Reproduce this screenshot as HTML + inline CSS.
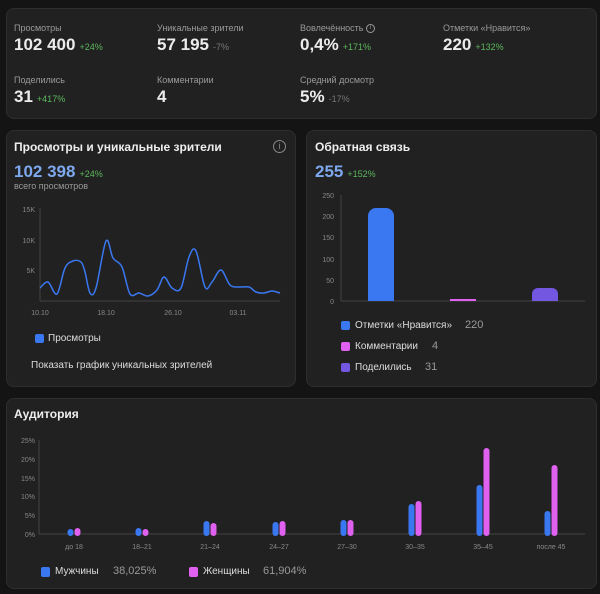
<!DOCTYPE html>
<html><head><meta charset="utf-8"><style>
*{margin:0;padding:0;box-sizing:border-box}
body{width:600px;height:594px;background:#141414;font-family:"Liberation Sans",sans-serif;position:relative;overflow:hidden;color:#e8e8e8}
.card{position:absolute;background:#212121;border:1px solid #2e2e2e;border-radius:8px}
.t{position:absolute;white-space:nowrap}
.lab{font-size:9px;color:#9a9a9a}
.val{font-size:17px;font-weight:bold;color:#ececec}
.g{font-size:9px;color:#5cb85c;font-weight:normal;margin-left:4px}
.gr{font-size:9px;color:#777;font-weight:normal;margin-left:4px}
.h{font-size:12px;font-weight:bold;color:#eee}
svg{position:absolute;left:0;top:0}
</style></head><body>
<div class="card" style="left:6px;top:8px;width:591px;height:111px"></div>
<div class="t lab" style="left:14px;top:23px">Просмотры</div>
<div class="t val" style="left:14px;top:35px">102 400<span class="g">+24%</span></div>
<div class="t lab" style="left:157px;top:23px">Уникальные зрители</div>
<div class="t val" style="left:157px;top:35px">57 195<span class="gr">-7%</span></div>
<div class="t lab" style="left:300px;top:23px">Вовлечённость <span style="display:inline-block;width:9px;height:9px;border:1px solid #999;border-radius:50%;font-size:6px;text-align:center;line-height:7px;vertical-align:middle">i</span></div>
<div class="t val" style="left:300px;top:35px">0,4%<span class="g">+171%</span></div>
<div class="t lab" style="left:443px;top:23px">Отметки «Нравится»</div>
<div class="t val" style="left:443px;top:35px">220<span class="g">+132%</span></div>
<div class="t lab" style="left:14px;top:75px">Поделились</div>
<div class="t val" style="left:14px;top:87px">31<span class="g">+417%</span></div>
<div class="t lab" style="left:157px;top:75px">Комментарии</div>
<div class="t val" style="left:157px;top:87px">4</div>
<div class="t lab" style="left:300px;top:75px">Средний досмотр</div>
<div class="t val" style="left:300px;top:87px">5%<span class="gr">-17%</span></div>

<div class="card" style="left:6px;top:130px;width:290px;height:257px"></div>
<div class="card" style="left:306px;top:130px;width:291px;height:257px"></div>
<div class="card" style="left:6px;top:398px;width:591px;height:191px"></div>

<div class="t h" style="left:14px;top:140px">Просмотры и уникальные зрители</div>
<div class="t" style="left:273px;top:140px;width:13px;height:13px;border:1px solid #888;border-radius:50%;font-size:9px;color:#888;text-align:center;line-height:11px">i</div>
<div class="t" style="left:14px;top:162px;font-size:17px;font-weight:bold;color:#7ea8ee">102 398<span class="g">+24%</span></div>
<div class="t lab" style="left:14px;top:181px">всего просмотров</div>
<div class="t" style="left:48px;top:333px;font-size:10px;color:#ddd">Просмотры</div>
<div class="t" style="left:31px;top:360px;font-size:10px;color:#ddd">Показать график уникальных зрителей</div>

<div class="t h" style="left:315px;top:140px">Обратная связь</div>
<div class="t" style="left:315px;top:162px;font-size:17px;font-weight:bold;color:#7ea8ee">255<span class="g">+152%</span></div>
<div class="t" style="left:355px;top:320px;font-size:10px;color:#ddd">Отметки «Нравится»</div>
<div class="t" style="left:465px;top:319px;font-size:11px;color:#999">220</div>
<div class="t" style="left:355px;top:341px;font-size:10px;color:#ddd">Комментарии</div>
<div class="t" style="left:432px;top:340px;font-size:11px;color:#999">4</div>
<div class="t" style="left:355px;top:362px;font-size:10px;color:#ddd">Поделились</div>
<div class="t" style="left:425px;top:361px;font-size:11px;color:#999">31</div>

<div class="t h" style="left:14px;top:407px">Аудитория</div>
<div class="t" style="left:55px;top:566px;font-size:10px;color:#ddd">Мужчины</div>
<div class="t" style="left:113px;top:565px;font-size:11px;color:#999">38,025%</div>
<div class="t" style="left:203px;top:566px;font-size:10px;color:#ddd">Женщины</div>
<div class="t" style="left:263px;top:565px;font-size:11px;color:#999">61,904%</div>

<svg width="600" height="594" font-family="Liberation Sans, sans-serif" font-size="7" fill="#888">
<line x1="40" y1="208" x2="40" y2="301" stroke="#444"/>
<line x1="40" y1="301" x2="280" y2="301" stroke="#444"/>
<g text-anchor="end"><text x="35" y="212">15K</text><text x="35" y="243">10K</text><text x="35" y="273">5K</text></g>
<g text-anchor="middle"><text x="40" y="315">10.10</text><text x="106" y="315">18.10</text><text x="173" y="315">26.10</text><text x="238" y="315">03.11</text></g>
<path id="ln" fill="none" stroke="#3a78f2" stroke-width="1.5" stroke-linejoin="round" d="M40,288 L48,282 57,294 65,268 73,261 81,262 85,272 90,293 96,288 106,241 113,258 122,267 130,294 139,293 148,296 157,290 164,277 172,288 181,288 189,257 196,251 205,287 212,282 221,270 230,285 239,287 249,287 256,292 264,293 272,291 280,293"/>
<rect x="35" y="334" width="9" height="9" rx="2" fill="#3a78f2"/>
<line x1="341" y1="195" x2="341" y2="301" stroke="#444"/>
<line x1="341" y1="301" x2="585" y2="301" stroke="#444"/>
<g text-anchor="end"><text x="334" y="198">250</text><text x="334" y="219">200</text><text x="334" y="240">150</text><text x="334" y="262">100</text><text x="334" y="283">50</text><text x="334" y="304">0</text></g>
<path d="M368,301 V216 a8,8 0 0 1 8,-8 h10 a8,8 0 0 1 8,8 V301Z" fill="#3a78f2"/>
<rect x="450" y="299" width="26" height="2" fill="#e060f0"/>
<path d="M532,301 V294 a6,6 0 0 1 6,-6 h14 a6,6 0 0 1 6,6 V301Z" fill="#7457e0"/>
<rect x="341" y="321" width="9" height="9" rx="2" fill="#3a78f2"/>
<rect x="341" y="342" width="9" height="9" rx="2" fill="#e060f0"/>
<rect x="341" y="363" width="9" height="9" rx="2" fill="#7457e0"/>
<line x1="39" y1="440" x2="39" y2="534" stroke="#444"/>
<line x1="39" y1="534" x2="585" y2="534" stroke="#444"/>
<g text-anchor="end"><text x="35" y="443">25%</text><text x="35" y="462">20%</text><text x="35" y="481">15%</text><text x="35" y="499">10%</text><text x="35" y="518">5%</text><text x="35" y="537">0%</text></g>
<g text-anchor="middle"><text x="74" y="549">до 18</text><text x="142" y="549">18–21</text><text x="210" y="549">21–24</text><text x="279" y="549">24–27</text><text x="347" y="549">27–30</text><text x="415" y="549">30–35</text><text x="483" y="549">35–45</text><text x="551" y="549">после 45</text></g>
<g stroke-linecap="round" stroke-width="6">
<g stroke="#3a78f2">
<line x1="70.5" y1="533" x2="70.5" y2="532"/>
<line x1="138.5" y1="533" x2="138.5" y2="531"/>
<line x1="206.5" y1="533" x2="206.5" y2="524"/>
<line x1="275.5" y1="533" x2="275.5" y2="525"/>
<line x1="343.5" y1="533" x2="343.5" y2="523"/>
<line x1="411.5" y1="533" x2="411.5" y2="507"/>
<line x1="479.5" y1="533" x2="479.5" y2="488"/>
<line x1="547.5" y1="533" x2="547.5" y2="514"/>
</g>
<g stroke="#e060f0">
<line x1="77.5" y1="533" x2="77.5" y2="531"/>
<line x1="145.5" y1="533" x2="145.5" y2="532"/>
<line x1="213.5" y1="533" x2="213.5" y2="526"/>
<line x1="282.5" y1="533" x2="282.5" y2="524"/>
<line x1="350.5" y1="533" x2="350.5" y2="523"/>
<line x1="418.5" y1="533" x2="418.5" y2="504"/>
<line x1="486.5" y1="533" x2="486.5" y2="451"/>
<line x1="554.5" y1="533" x2="554.5" y2="468"/>
</g></g>
<rect x="41" y="567" width="9" height="10" rx="2" fill="#3a78f2"/>
<rect x="189" y="567" width="9" height="10" rx="2" fill="#e060f0"/>
</svg>
<script>
(function(){
var p=[[40,288],[48,282],[57,294],[65,268],[73,261],[81,262],[85,272],[90,293],[96,288],[106,241],[113,258],[122,267],[130,294],[139,293],[148,296],[157,290],[164,277],[172,288],[181,288],[189,257],[196,251],[205,287],[212,282],[221,270],[230,285],[239,287],[249,287],[256,292],[264,293],[272,291],[280,293]];
var d="M"+p[0][0]+","+p[0][1];
for(var i=0;i<p.length-1;i++){
var p0=p[i-1]||p[i],p1=p[i],p2=p[i+1],p3=p[i+2]||p2;
var c1x=p1[0]+(p2[0]-p0[0])/6,c1y=p1[1]+(p2[1]-p0[1])/6;
var c2x=p2[0]-(p3[0]-p1[0])/6,c2y=p2[1]-(p3[1]-p1[1])/6;
d+=" C"+c1x.toFixed(1)+","+c1y.toFixed(1)+" "+c2x.toFixed(1)+","+c2y.toFixed(1)+" "+p2[0]+","+p2[1];
}
document.getElementById("ln").setAttribute("d",d);
})();
</script>
</body></html>
